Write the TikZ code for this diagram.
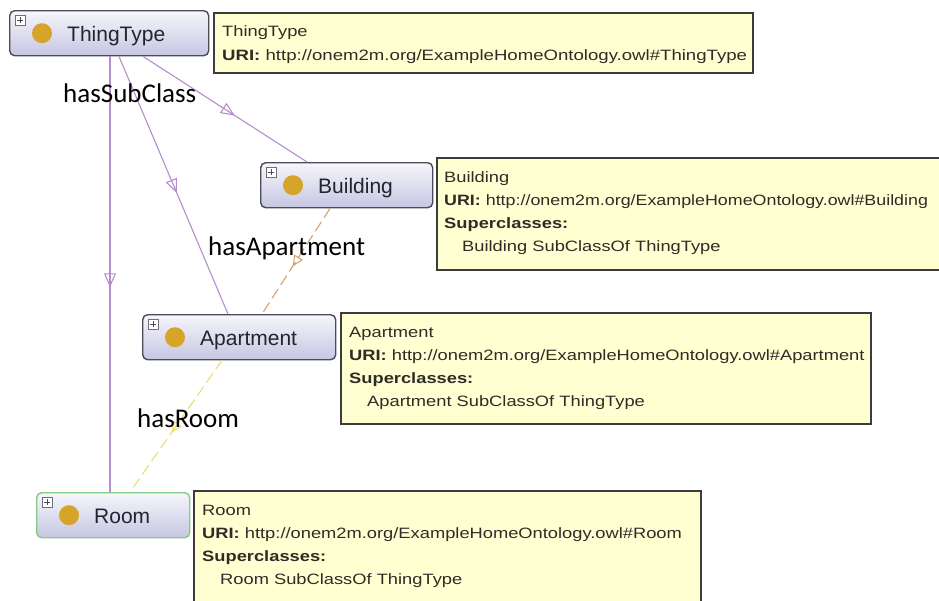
\documentclass[tikz,border=0pt]{standalone}
\usepackage{fontspec}
\setmainfont{Liberation Sans}
\newfontfamily\lblfont{Carlito}
\usetikzlibrary{calc,arrows.meta,decorations.markings}
\definecolor{lav}{RGB}{182,142,204}
\definecolor{bord}{RGB}{75,75,88}
\definecolor{gold}{RGB}{214,164,40}
\definecolor{infofill}{RGB}{255,255,210}
\definecolor{infobord}{RGB}{60,60,60}
\definecolor{roomgreen}{RGB}{130,205,130}
\definecolor{orng}{RGB}{214,160,110}
\definecolor{yel}{RGB}{232,222,110}
\definecolor{clstop}{RGB}{246,246,252}
\definecolor{clsbot}{RGB}{198,198,226}
\definecolor{txtdark}{RGB}{35,35,50}
\definecolor{infotxt}{RGB}{45,45,40}
\newcommand\sx[2][1.22]{\scalebox{#1}[1]{#2}}
\tikzset{
 clsbox/.style={draw=bord, line width=1.4pt, rounded corners=5pt, top color=clstop, bottom color=clsbot, inner sep=0pt, minimum height=45pt},
 plusbox/.style={draw=bord!80, fill=white, line width=0.6pt},
 clslabel/.style={font=\fontsize{21pt}{25pt}\selectfont, text=txtdark, inner sep=0pt},
 infobox/.style={draw=infobord, line width=1.6pt, fill=infofill, inner sep=0pt},
 infoline/.style={font=\fontsize{15pt}{18pt}\selectfont, text=infotxt, inner sep=0pt, anchor=base west},
 rellabel/.style={font=\lblfont\fontsize{27pt}{32pt}\selectfont, text=black, inner sep=0pt, anchor=base west},
 subedge/.style={draw=lav, line width=1.1pt, postaction={decorate}, decoration={markings, mark=at position #1 with {\arrow{Triangle[open, length=14pt, width=12pt, line width=1.1pt]}}}},
 hasedge/.style={line width=1.1pt, dash pattern=on 11pt off 5pt, postaction={decorate}, decoration={markings, mark=at position 0.55 with {\arrow{Triangle[open, length=11pt, width=10pt, line width=1pt]}}}}
}
\newcommand\clsnode[6][]{%
 \node[clsbox,#1,anchor=north west,minimum width=#5pt] (#2) at (#3,#4) {};
 \draw[plusbox] ($(#2.north west)+(6,5)$) rectangle ($(#2.north west)+(16,15)$);
 \draw[bord, line width=0.8pt] ($(#2.north west)+(8,10)$) -- ($(#2.north west)+(14,10)$) ($(#2.north west)+(11,7)$) -- ($(#2.north west)+(11,13)$);
 \fill[gold] ($(#2.west)+(33,0)$) circle (10pt);
 \node[clslabel, anchor=base west] at ($(#2.west)+(58,8.5)$) {#6};
}
\begin{document}
\begin{tikzpicture}[x=1pt,y=-1pt]
\path[use as bounding box] (0,0) rectangle (939,600);
\clip (0,0) rectangle (939,600);
\fill[white] (0,0) rectangle (939,600);

% class nodes
\clsnode{thing}{9}{10}{199}{ThingType}
\clsnode{bld}{260}{162}{172}{Building}
\clsnode{apt}{142}{314}{193}{Apartment}
\clsnode[draw=roomgreen]{room}{36}{492}{153}{Room}

% edges
\draw[subedge=0.53] ($(thing.south west)+(101,0)$) -- ($(room.north west)+(74,0)$);
\draw[subedge=0.53] ($(thing.south west)+(110,0)$) -- ($(apt.north west)+(86,0)$);
\draw[subedge=0.56] ($(thing.south west)+(134,0)$) -- ($(bld.north west)+(47,0)$);
\draw[hasedge, draw=orng] ($(bld.south west)+(70,0)$) -- ($(apt.north west)+(120,0)$);
\draw[hasedge, draw=yel] ($(apt.south west)+(80,0)$) -- ($(room.north west)+(94,0)$);

% info boxes
\node[infobox, anchor=north west, minimum width=539pt, minimum height=60pt] (thinginfo) at (213,12) {};
\node[infoline] (ti1) at ($(thinginfo.north west)+(9,24)$) {\sx{ThingType}};
\node[infoline] (ti2) at ($(thinginfo.north west)+(9,48)$) {\sx[1.24]{\textbf{URI:} http://onem2m.org/ExampleHomeOntology.owl\#ThingType}};

\node[infobox, anchor=north west, minimum width=540pt, minimum height=112pt] (bldinfo) at (436,157) {};
\node[infoline] (bi1) at ($(bldinfo.north west)+(8,25)$) {\sx{Building}};
\node[infoline] (bi2) at ($(bldinfo.north west)+(8,48)$) {\sx[1.19]{\textbf{URI:} http://onem2m.org/ExampleHomeOntology.owl\#Building}};
\node[infoline] (bi3) at ($(bldinfo.north west)+(8,71)$) {\sx{\textbf{Superclasses:}}};
\node[infoline] (bi4) at ($(bldinfo.north west)+(26,94)$) {\sx{Building SubClassOf ThingType}};

\node[infobox, anchor=north west, minimum width=530pt, minimum height=111pt] (aptinfo) at (340,312) {};
\node[infoline] (ai1) at ($(aptinfo.north west)+(9,25)$) {\sx{Apartment}};
\node[infoline] (ai2) at ($(aptinfo.north west)+(9,48)$) {\sx{\textbf{URI:} http://onem2m.org/ExampleHomeOntology.owl\#Apartment}};
\node[infoline] (ai3) at ($(aptinfo.north west)+(9,71)$) {\sx{\textbf{Superclasses:}}};
\node[infoline] (ai4) at ($(aptinfo.north west)+(27,94)$) {\sx{Apartment SubClassOf ThingType}};

\node[infobox, anchor=north west, minimum width=507pt, minimum height=125pt] (roominfo) at (193,490) {};
\node[infoline] (ri1) at ($(roominfo.north west)+(9,25)$) {\sx{Room}};
\node[infoline] (ri2) at ($(roominfo.north west)+(9,48)$) {\sx{\textbf{URI:} http://onem2m.org/ExampleHomeOntology.owl\#Room}};
\node[infoline] (ri3) at ($(roominfo.north west)+(9,71)$) {\sx{\textbf{Superclasses:}}};
\node[infoline] (ri4) at ($(roominfo.north west)+(27,94)$) {\sx{Room SubClassOf ThingType}};

% relation labels
\node[rellabel] (lsub) at (63,102) {hasSubClass};
\node[rellabel] (lapt) at (208,255) {hasApartment};
\node[rellabel] (lroom) at (137,427) {hasRoom};
\end{tikzpicture}
\end{document}
